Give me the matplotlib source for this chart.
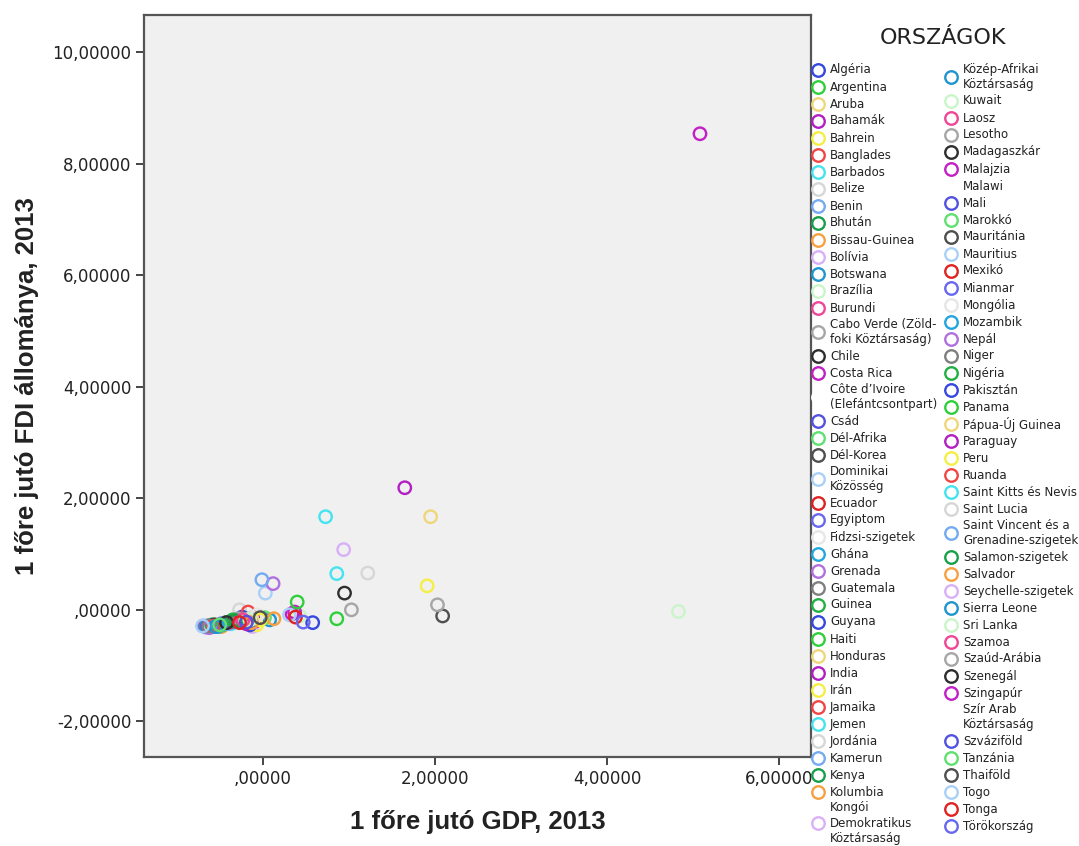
import numpy as np
import matplotlib.pyplot as plt
from matplotlib.lines import Line2D
from matplotlib.ticker import FuncFormatter

# country names (legend order), second column starts at index 42
countries = [
    'Algéria', 'Argentina', 'Aruba', 'Bahamák', 'Bahrein', 'Banglades', 'Barbados',
    'Belize', 'Benin', 'Bhután', 'Bissau-Guinea', 'Bolívia', 'Botswana', 'Brazília',
    'Burundi', 'Cabo Verde (Zöld-\nfoki Köztársaság)', 'Chile', 'Costa Rica',
    'Côte d’Ivoire\n(Elefántcsontpart)', 'Csád', 'Dél-Afrika', 'Dél-Korea',
    'Dominikai\nKözösség', 'Ecuador', 'Egyiptom', 'Fidzsi-szigetek', 'Ghána',
    'Grenada', 'Guatemala', 'Guinea', 'Guyana', 'Haiti', 'Honduras', 'India', 'Irán',
    'Jamaika', 'Jemen', 'Jordánia', 'Kamerun', 'Kenya', 'Kolumbia',
    'Kongói\nDemokratikus\nKöztársaság',
    'Közép-Afrikai\nKöztársaság', 'Kuwait', 'Laosz', 'Lesotho', 'Madagaszkár',
    'Malajzia', 'Malawi', 'Mali', 'Marokkó', 'Mauritánia', 'Mauritius', 'Mexikó',
    'Mianmar', 'Mongólia', 'Mozambik', 'Nepál', 'Niger', 'Nigéria', 'Pakisztán',
    'Panama', 'Pápua-Új Guinea', 'Paraguay', 'Peru', 'Ruanda',
    'Saint Kitts és Nevis', 'Saint Lucia', 'Saint Vincent és a\nGrenadine-szigetek',
    'Salamon-szigetek', 'Salvador', 'Seychelle-szigetek', 'Sierra Leone',
    'Sri Lanka', 'Szamoa', 'Szaúd-Arábia', 'Szenegál', 'Szingapúr',
    'Szír Arab\nKöztársaság', 'Szváziföld', 'Tanzánia', 'Thaiföld', 'Togo', 'Tonga',
    'Törökország',
]

# standardized GDP per capita, 2013
gdp = [
    0.58, 0.86, 1.95, 1.65, 1.91, -0.51, 0.86, -0.27, -0.69, -0.19, -0.48, -0.12,
    0.08, 0.43, -0.67, 1.03, 0.95, 0.34, np.nan, -0.58, 0.02, 2.09, 0.03, -0.09,
    -0.22, -0.09, -0.27, 0.12, -0.15, -0.59, -0.24, -0.47, -0.21, -0.36, -0.07,
    -0.17, -0.37, -0.13, -0.41, -0.43, 0.13, -0.65,
    -0.66, 4.83, -0.38, -0.29, -0.56, 0.37, np.nan, -0.64, -0.17, -0.34, 0.31, 0.38,
    -0.48, -0.06, -0.52, -0.62, -0.63, -0.35, -0.15, 0.40, -0.20, -0.19, -0.03,
    -0.57, 0.73, 1.22, -0.01, -0.31, -0.13, 0.94, -0.55, -0.15, -0.23, 2.03, -0.42,
    5.08, np.nan, -0.19, -0.50, -0.03, -0.70, -0.27, 0.47,
]

# standardized FDI stock per capita, 2013
fdi = [
    -0.23, -0.16, 1.67, 2.19, 0.43, -0.30, 0.65, 0.00, -0.29, -0.16, -0.30, -0.30,
    -0.18, -0.11, -0.30, 0.00, 0.30, -0.07, np.nan, -0.30, -0.14, -0.11, 0.30, -0.20,
    -0.22, -0.14, -0.18, 0.47, -0.22, -0.27, -0.13, -0.27, -0.18, -0.23, -0.27,
    -0.04, -0.25, -0.14, -0.25, -0.23, -0.16, -0.32,
    -0.30, -0.03, -0.22, -0.16, -0.27, -0.04, np.nan, -0.29, -0.20, -0.20, -0.09, -0.13,
    -0.25, -0.09, -0.30, -0.32, -0.29, -0.18, -0.27, 0.14, -0.20, -0.25, -0.18,
    -0.29, 1.67, 0.66, 0.54, -0.20, -0.23, 1.08, -0.30, -0.18, -0.18, 0.09, -0.23,
    8.54, np.nan, -0.22, -0.27, -0.14, -0.29, -0.23, -0.22,
]

# SPSS style marker cycle (30 colours)
palette = [
    '#3548e0', '#2fcf3c', '#f0d67a', '#b21fc2', '#f5ee45', '#f04646', '#45e3f0',
    '#d6d6d6', '#74aaf0', '#17a047', '#f7a040', '#d9b0f7', '#1f95cf', '#c9f5c9',
    '#ef4697', '#a6a6a6', '#2e2e2e', '#c21fc6', '#ffffff', '#5252e0', '#5fe070',
    '#4f4f4f', '#a9d0f7', '#e02222', '#6767f0', '#e6e6e6', '#21a6de', '#b070e0',
    '#7f7f7f', '#22b044',
]
colors = [palette[i % len(palette)] for i in range(len(countries))]

W, H = 1079, 846
fig = plt.figure(figsize=(W / 100, H / 100), dpi=100)
ax = fig.add_axes([144 / W, 1 - 757 / H, (811 - 144) / W, (757 - 15) / H])
ax.set_facecolor('#f0f0f0')

ax.scatter(gdp, fdi, s=80, facecolors='none', edgecolors=colors, linewidths=1.7, zorder=3)

ax.set_xlim(-1.38, 6.37)
ax.set_ylim(-2.64, 10.67)
ax.set_xticks([0, 2, 4, 6])
ax.set_yticks([-2, 0, 2, 4, 6, 8, 10])

def hu_fmt(v, pos):
    s = f'{v:.5f}'.replace('.', ',')
    if s.startswith('0,'):
        s = s[1:]
    if s.startswith('-0,'):
        s = '-' + s[2:]
    return s

ax.xaxis.set_major_formatter(FuncFormatter(hu_fmt))
ax.yaxis.set_major_formatter(FuncFormatter(hu_fmt))
ax.tick_params(direction='out', length=6, width=1.4, color='#444444',
               labelsize=12, labelcolor='#222222', pad=3)
for sp in ax.spines.values():
    sp.set_color('#555555')
    sp.set_linewidth(1.6)

ax.set_xlabel('1 főre jutó GDP, 2013', family='Liberation Sans', fontweight='bold',
              fontsize=18.5, color='#222222', labelpad=16)
ax.set_ylabel('1 főre jutó FDI állománya, 2013', family='Liberation Sans',
              fontweight='bold', fontsize=18.5, color='#222222', labelpad=10)

# legend, drawn by hand in two columns
fig.text(943 / W, 1 - 38 / H, 'ORSZÁGOK', fontsize=16, color='#222222',
         ha='center', va='center')
columns = [(0, 42, 818), (42, len(countries), 951)]
for start, stop, mx in columns:
    y = 61.5
    for i in range(start, stop):
        lines = countries[i].count('\n') + 1
        h = 17 + 14 * (lines - 1)
        yc = y + h / 2
        fig.add_artist(Line2D([mx / W], [1 - yc / H], transform=fig.transFigure,
                              marker='o', markersize=9, markerfacecolor='none',
                              markeredgecolor=colors[i], markeredgewidth=1.7,
                              linestyle='none'))
        fig.text((mx + 12) / W, 1 - yc / H, countries[i], fontsize=8.5,
                 color='#222222', ha='left', va='center', linespacing=1.25)
        y += h

fig.savefig('out.png', dpi=100)
